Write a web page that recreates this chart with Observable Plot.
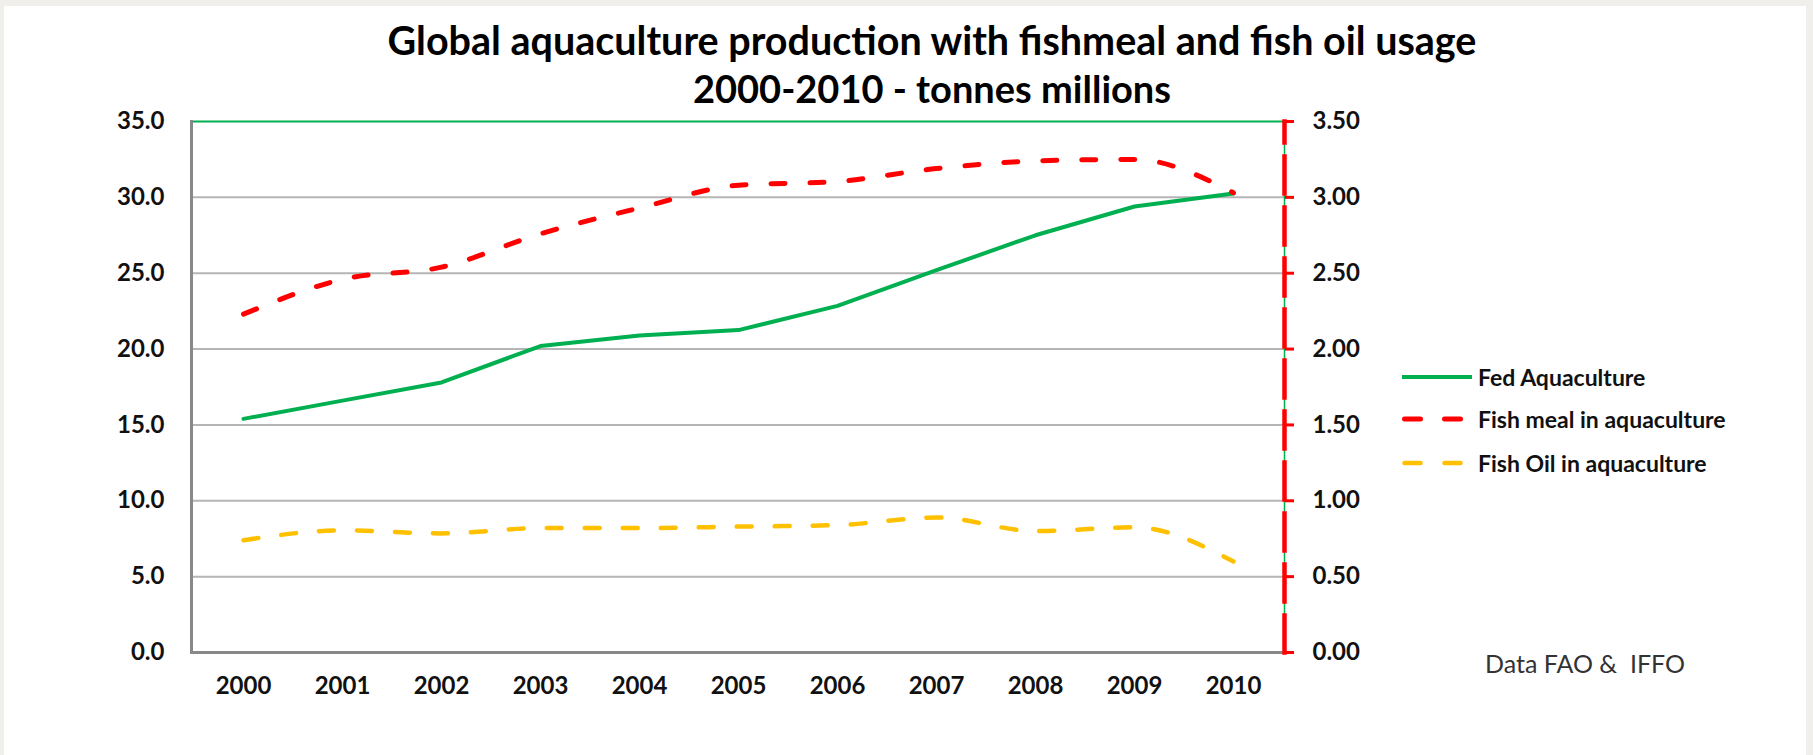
<!DOCTYPE html>
<html>
<head>
<meta charset="utf-8">
<script src="https://cdn.jsdelivr.net/npm/d3@7"></script>
<script src="https://cdn.jsdelivr.net/npm/@observablehq/plot@0.6"></script>
<style>
  html, body { margin: 0; padding: 0; background: #f0efeb; width: 1813px; height: 755px; overflow: hidden; font-family: Lato, "Open Sans", sans-serif; }
  #panel { position: absolute; left: 4px; top: 6px; width: 1802px; height: 749px; background: #ffffff; }
  #chart { position: absolute; left: 0; top: 0; }
  .title { position: absolute; left: 0; width: 1864px; text-align: center; font-weight: 700; font-size: 38px; color: #000; line-height: 1; white-space: nowrap; transform: translateY(-50%); }
  .leg { position: absolute; left: 1478px; font-weight: 700; font-size: 23px; color: #111; line-height: 1; white-space: nowrap; transform: translateY(-50%); }
  #caption { position: absolute; left: 1485px; top: 663px; transform: translateY(-50%); font-size: 25px; color: #333; white-space: pre; line-height: 1; }
  #legsvg { position: absolute; left: 1400px; top: 360px; }
</style>
</head>
<body>
<div id="panel"></div>
<div id="chart"></div>
<div class="title" id="t1" style="top:40px;font-size:39.5px">Global aquaculture production with fishmeal and fish oil usage</div>
<div class="title" id="t2" style="top:88px">2000-2010 - tonnes millions</div>
<svg id="legsvg" width="90" height="120">
  <line x1="2" x2="72" y1="17" y2="17" stroke="#00b050" stroke-width="4" />
  <line x1="4.5" x2="60.5" y1="59" y2="59" stroke="#ff0000" stroke-width="5" stroke-linecap="round" stroke-dasharray="16,24" />
  <line x1="4.5" x2="60.5" y1="103" y2="103" stroke="#ffc000" stroke-width="4.5" stroke-linecap="round" stroke-dasharray="16,24" />
</svg>
<div class="leg" style="top:377px">Fed Aquaculture</div>
<div class="leg" style="top:419px">Fish meal in aquaculture</div>
<div class="leg" style="top:463px">Fish Oil in aquaculture</div>
<div id="caption">Data FAO &amp;  IFFO</div>
<script>
// ---- data ----
const years = [2000, 2001, 2002, 2003, 2004, 2005, 2006, 2007, 2008, 2009, 2010];
const fedAquaculture = [15.4, 16.6, 17.8, 20.2, 20.9, 21.25, 22.85, 25.2, 27.5, 29.4, 30.25]; // left axis, Mt
const fishMeal = [2.23, 2.46, 2.54, 2.76, 2.93, 3.08, 3.105, 3.19, 3.24, 3.25, 3.03];          // right axis, Mt
const fishOil = [0.74, 0.805, 0.785, 0.82, 0.82, 0.83, 0.84, 0.89, 0.80, 0.825, 0.60];          // right axis, Mt
const leftTicks = [0, 5, 10, 15, 20, 25, 30, 35];
const rightTicks = [0, 0.5, 1, 1.5, 2, 2.5, 3, 3.5];

const k = leftTicks[leftTicks.length - 1] / rightTicks[rightTicks.length - 1]; // right axis -> left axis ratio
const rows = years.map((year, i) => ({year, fed: fedAquaculture[i], meal: fishMeal[i], oil: fishOil[i]}));

const chart = Plot.plot({
  width: 1813,
  height: 755,
  marginLeft: 191,
  marginRight: 529,
  marginTop: 121,
  marginBottom: 103,
  style: {fontFamily: "Lato, 'Open Sans', sans-serif", fontSize: "24px", fontWeight: 700, color: "#111", background: "transparent", overflow: "visible"},
  x: {type: "point", domain: years, padding: 0.5, axis: null},
  y: {domain: [0, 35], axis: null},
  marks: [
    Plot.ruleY(leftTicks.slice(1, -1), {stroke: "#b5b5b5", strokeWidth: 2}),
    Plot.ruleY([leftTicks[leftTicks.length - 1]], {stroke: "#00b050", strokeWidth: 2}),
    Plot.frame({anchor: "right", stroke: "#00b050", strokeWidth: 1.5}),
    Plot.ruleY([0], {stroke: "#888888", strokeWidth: 3}),
    Plot.frame({anchor: "left", stroke: "#888888", strokeWidth: 3}),
    Plot.lineY(rows, {x: "year", y: "fed", stroke: "#00b050", strokeWidth: 4}),
    Plot.lineY(rows, {x: "year", y: d => d.meal * k, stroke: "#ff0000", strokeWidth: 5, strokeDasharray: "14,25", strokeLinecap: "round", curve: "monotone-x"}),
    Plot.lineY(rows, {x: "year", y: d => d.oil * k, stroke: "#ffc000", strokeWidth: 4.5, strokeDasharray: "15,23", strokeLinecap: "round", curve: "monotone-x"}),
    Plot.frame({anchor: "right", stroke: "#ff0000", strokeWidth: 4.5, strokeDasharray: "37,14", strokeDashoffset: 16}),
    Plot.axisY(rightTicks.map(t => t * k), {anchor: "right", tickSize: 9, stroke: "#ff0000", strokeWidth: 3, tickFormat: () => "", label: null}),
    Plot.axisY(leftTicks, {anchor: "left", tickSize: 0, tickPadding: 27, tickFormat: d => d.toFixed(1), label: null}),
    Plot.axisY(rightTicks.map(t => t * k), {anchor: "right", tickSize: 0, tickPadding: 28, tickFormat: d => (d / k).toFixed(2), label: null}),
    Plot.axisX(years, {anchor: "bottom", tickSize: 0, tickPadding: 24, tickFormat: d => String(d), label: null})
  ]
});
document.getElementById("chart").appendChild(chart);
</script>
</body>
</html>
